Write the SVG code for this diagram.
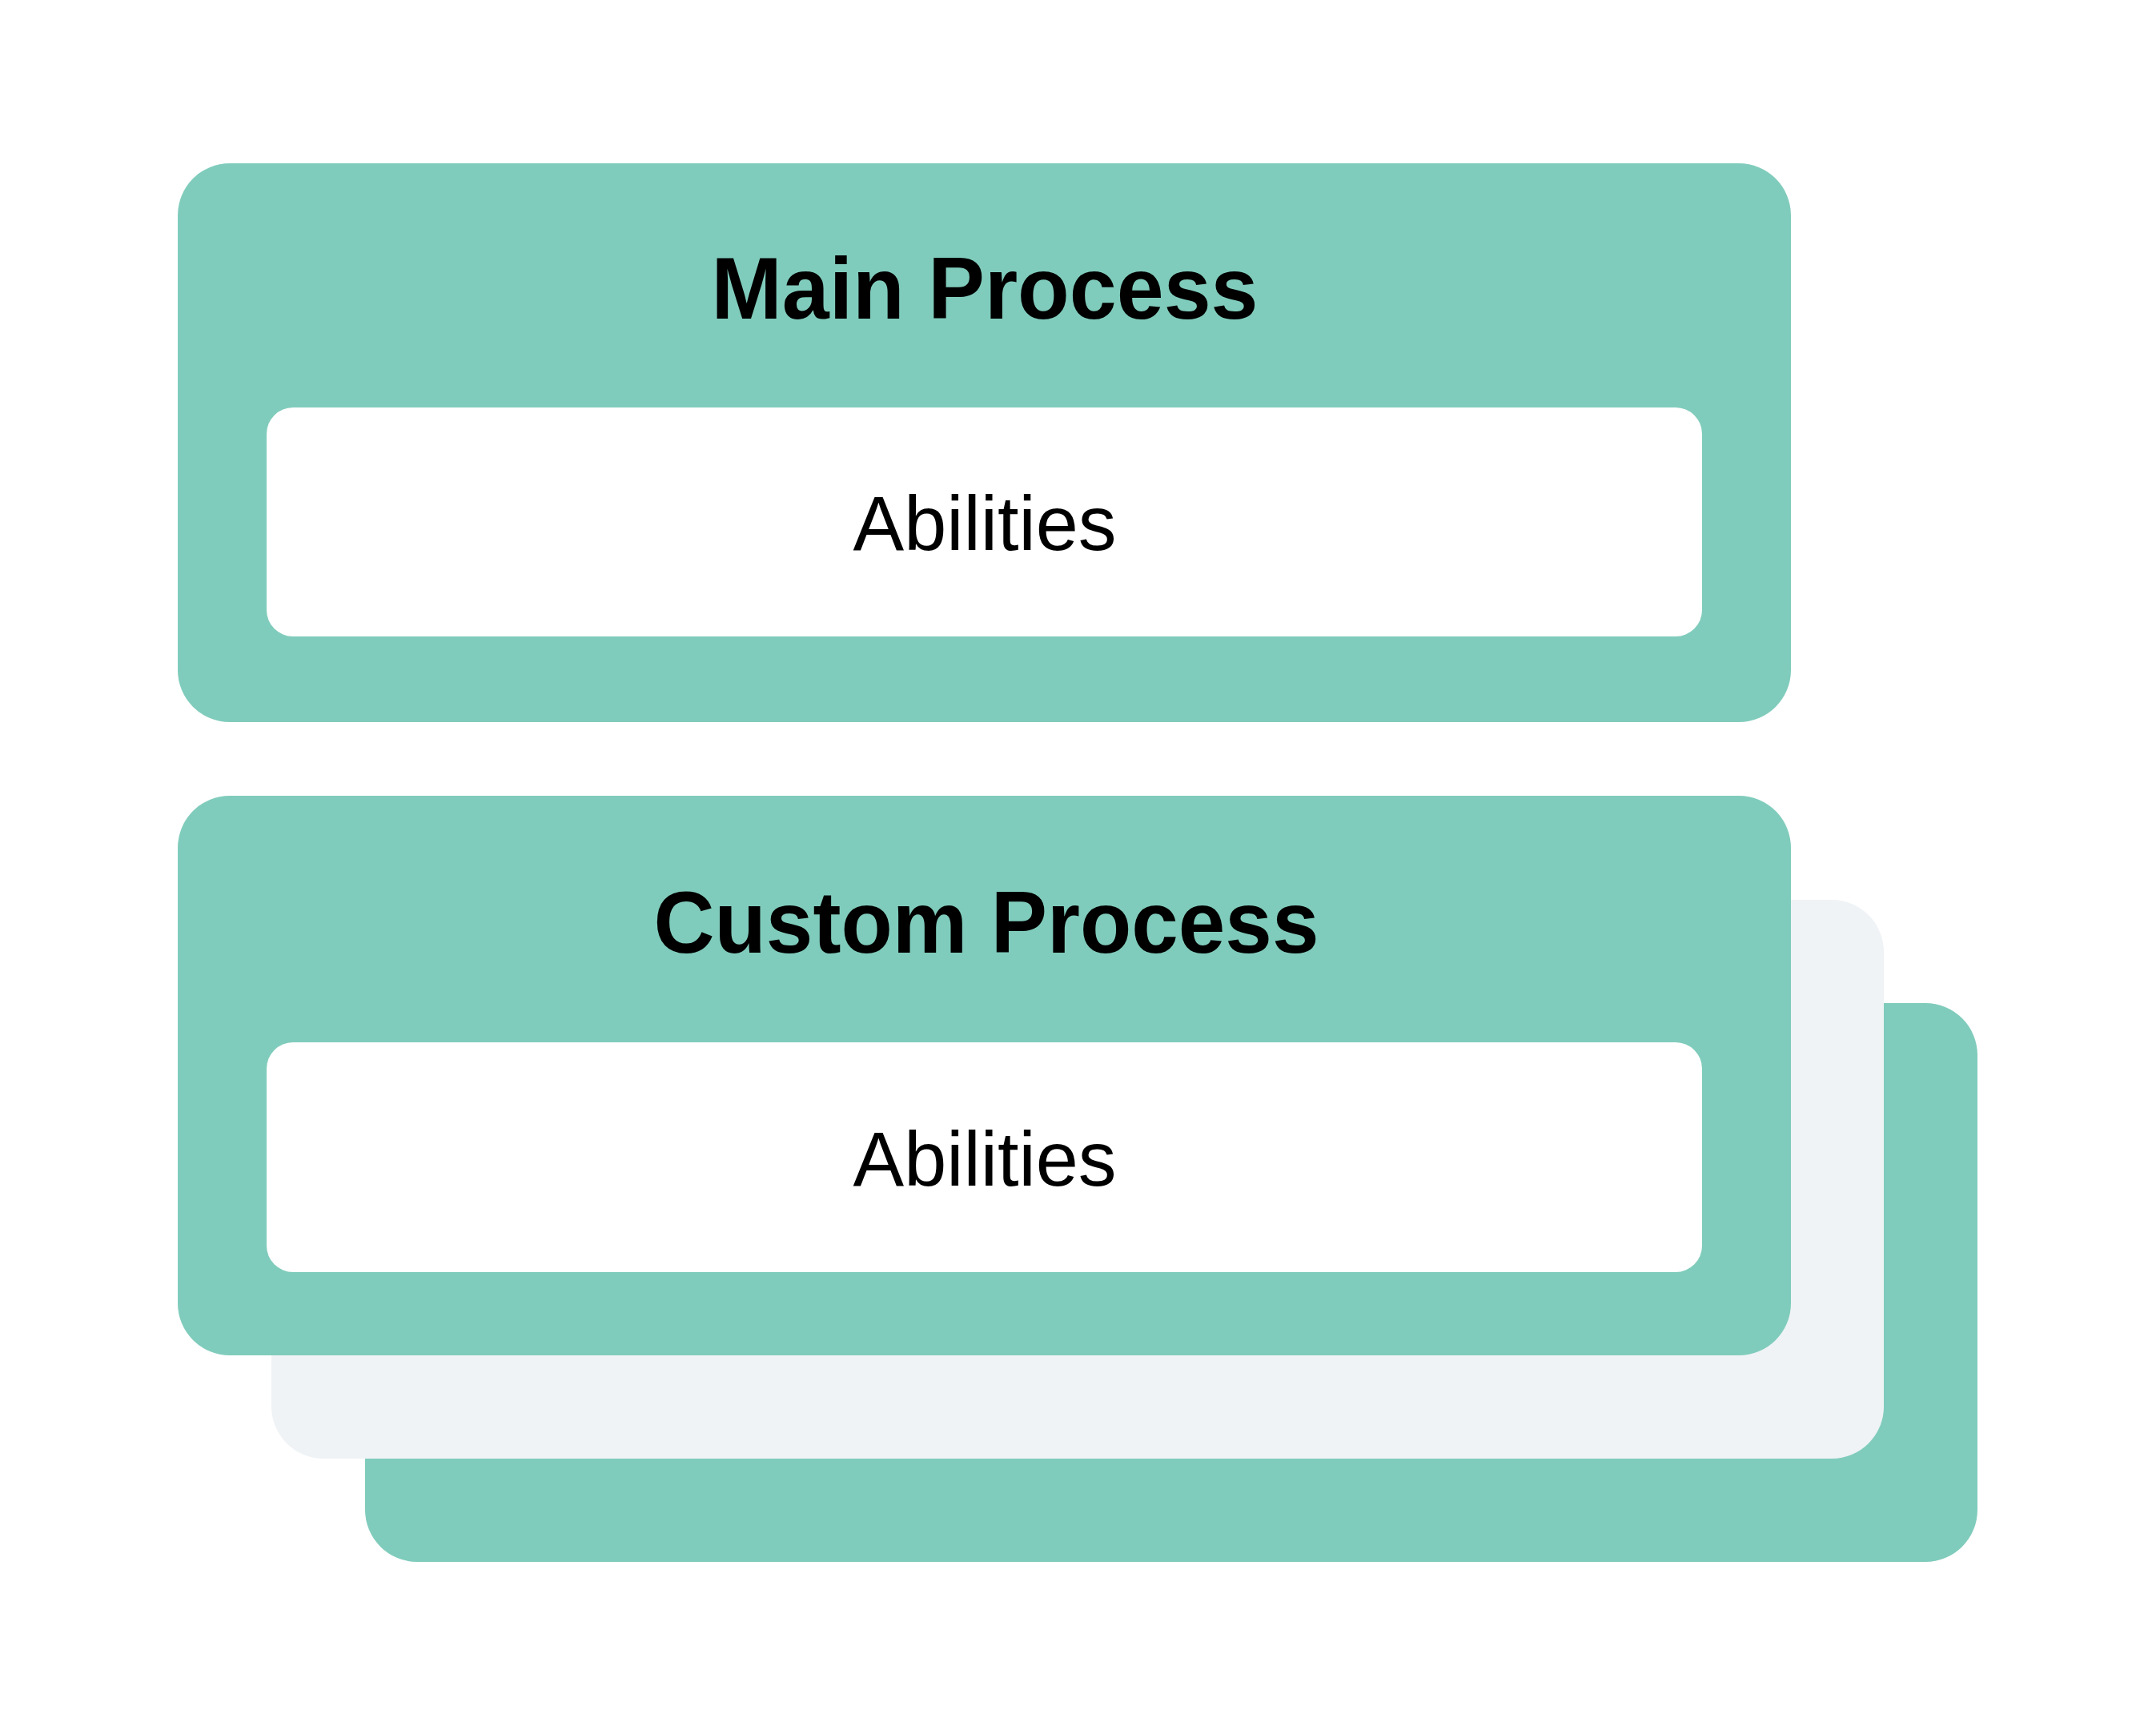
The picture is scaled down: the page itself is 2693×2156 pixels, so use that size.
<svg xmlns="http://www.w3.org/2000/svg" width="2693" height="2156" viewBox="0 0 2693 2156">
<style>
.teal{fill:#80CCBC}
.gray{fill:#EFF3F6}
.inner{fill:#FFFFFF}
.title{font-family:"Liberation Sans",Arial,sans-serif;font-weight:bold;font-size:110px;fill:#000;text-anchor:middle}
.label{font-family:"Liberation Sans",Arial,sans-serif;font-size:96px;fill:#000;text-anchor:middle}
</style>
<rect width="2693" height="2156" fill="#FFFFFF"/>
<g id="stack-back">
<rect class="teal" x="456" y="1253" width="2014" height="698" rx="65" ry="65"/>
</g>
<g id="stack-middle">
<rect class="gray" x="339" y="1124" width="2014" height="698" rx="65" ry="65"/>
</g>
<g id="main-process">
<rect class="teal" x="222" y="204" width="2015" height="698" rx="65" ry="65"/>
<text class="title" x="1230" y="398" textLength="683" lengthAdjust="spacingAndGlyphs">Main Process</text>
<g id="main-abilities">
<rect class="inner" x="333" y="509" width="1793" height="286" rx="33" ry="33"/>
<text class="label" x="1230" y="687" textLength="329" lengthAdjust="spacingAndGlyphs">Abilities</text>
</g>
</g>
<g id="custom-process">
<rect class="teal" x="222" y="994" width="2015" height="699" rx="65" ry="65"/>
<text class="title" x="1232" y="1190" textLength="831" lengthAdjust="spacingAndGlyphs">Custom Process</text>
<g id="custom-abilities">
<rect class="inner" x="333" y="1302" width="1793" height="287" rx="33" ry="33"/>
<text class="label" x="1230" y="1481" textLength="329" lengthAdjust="spacingAndGlyphs">Abilities</text>
</g>
</g>
<g id="connectors"/>
</svg>
